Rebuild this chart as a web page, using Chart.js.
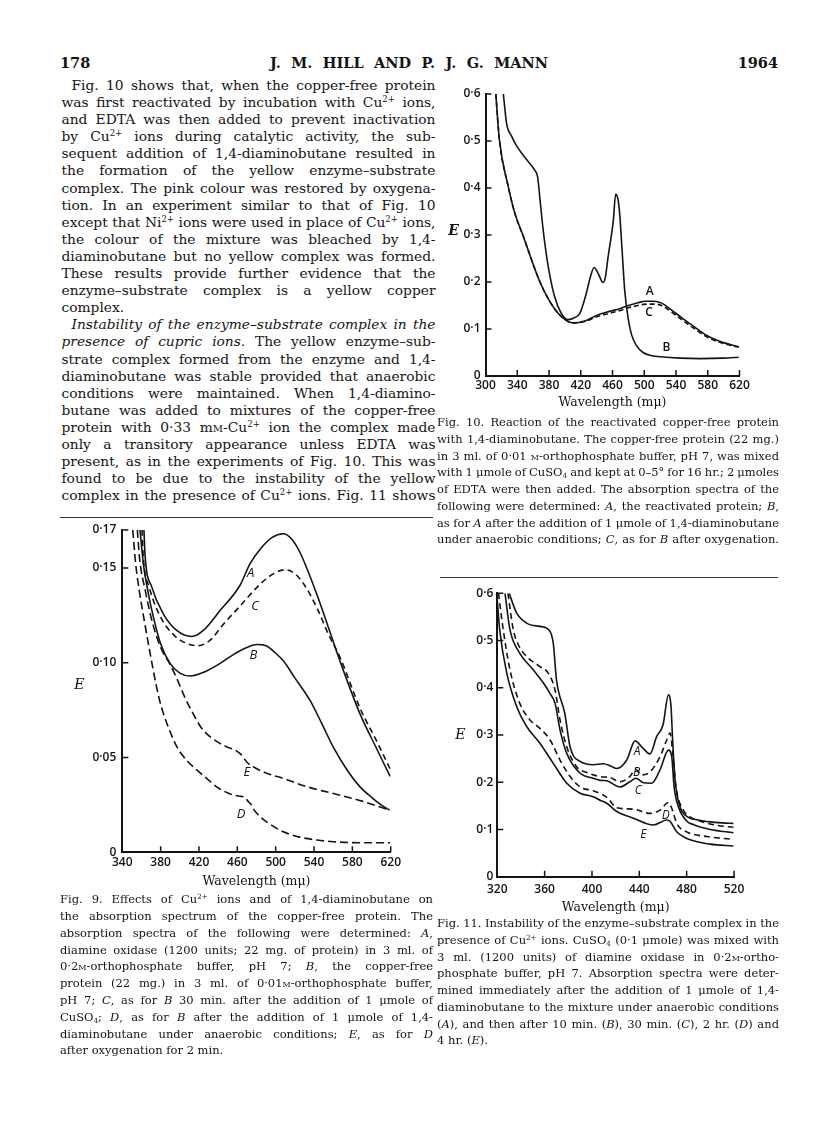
<!DOCTYPE html>
<html>
<head>
<meta charset="utf-8">
<script src="https://cdn.jsdelivr.net/npm/chart.js@4.4.1/dist/chart.umd.min.js"></script>
<style>
html, body { margin: 0; padding: 0; background: #fff; }
body { width: 816px; height: 1138px; position: relative; overflow: hidden; color: #141414; font-family: 'DejaVu Serif', serif; }
.blk { position: absolute; }
.ln { white-space: nowrap; }
.body { font-size: 13.8px; line-height: 17.1px; }
.cap { font-size: 11.5px; line-height: 16.7px; }
.ind { padding-left: 10px; }
sup { font-size: 0.62em; line-height: 0; vertical-align: 0.55em; }
sub { font-size: 0.62em; line-height: 0; vertical-align: -0.25em; }
.sc { font-variant: small-caps; }
canvas { position: absolute; }
.rule { position: absolute; height: 1px; background: #333; }
.hdr { position: absolute; top: 54px; font-weight: bold; font-size: 14.5px; line-height: 18px; white-space: nowrap; }
</style>
</head>
<body>

<div class="hdr" style="left:60px">178</div>
<div class="hdr ln j" style="left:270px;width:278px"><span>J. M. HILL AND P. J. G. MANN</span></div>
<div class="hdr" style="left:718px;width:60px;text-align:right">1964</div>

<div class="blk body" style="left:61.5px;top:77px;width:374px">
<div class="ln j ind"><span>Fig. 10 shows that, when the copper-free protein</span></div>
<div class="ln j"><span>was first reactivated by incubation with Cu<sup>2+</sup> ions,</span></div>
<div class="ln j"><span>and EDTA was then added to prevent inactivation</span></div>
<div class="ln j"><span>by Cu<sup>2+</sup> ions during catalytic activity, the sub-</span></div>
<div class="ln j"><span>sequent addition of 1,4-diaminobutane resulted in</span></div>
<div class="ln j"><span>the formation of the yellow enzyme–substrate</span></div>
<div class="ln j"><span>complex. The pink colour was restored by oxygena-</span></div>
<div class="ln j"><span>tion. In an experiment similar to that of Fig. 10</span></div>
<div class="ln j"><span>except that Ni<sup>2+</sup> ions were used in place of Cu<sup>2+</sup> ions,</span></div>
<div class="ln j"><span>the colour of the mixture was bleached by 1,4-</span></div>
<div class="ln j"><span>diaminobutane but no yellow complex was formed.</span></div>
<div class="ln j"><span>These results provide further evidence that the</span></div>
<div class="ln j"><span>enzyme–substrate complex is a yellow copper</span></div>
<div class="ln"><span>complex.</span></div>
<div class="ln j ind"><span><i>Instability of the enzyme–substrate complex in the</i></span></div>
<div class="ln j"><span><i>presence of cupric ions.</i> The yellow enzyme–sub-</span></div>
<div class="ln j"><span>strate complex formed from the enzyme and 1,4-</span></div>
<div class="ln j"><span>diaminobutane was stable provided that anaerobic</span></div>
<div class="ln j"><span>conditions were maintained. When 1,4-diamino-</span></div>
<div class="ln j"><span>butane was added to mixtures of the copper-free</span></div>
<div class="ln j"><span>protein with 0·33 m<span class="sc">m</span>-Cu<sup>2+</sup> ion the complex made</span></div>
<div class="ln j"><span>only a transitory appearance unless EDTA was</span></div>
<div class="ln j"><span>present, as in the experiments of Fig. 10. This was</span></div>
<div class="ln j"><span>found to be due to the instability of the yellow</span></div>
<div class="ln j"><span>complex in the presence of Cu<sup>2+</sup> ions. Fig. 11 shows</span></div>
</div>

<div class="rule" style="left:60px;top:517px;width:373px"></div>
<div class="rule" style="left:440px;top:577px;width:338px"></div>

<canvas id="fig10" width="330" height="340" style="left:440px;top:80px"></canvas>
<canvas id="fig9" width="360" height="380" style="left:60px;top:515px"></canvas>
<canvas id="fig11" width="330" height="345" style="left:440px;top:580px"></canvas>

<div class="blk cap" style="left:437px;top:414.3px;width:342px">
<div class="ln j"><span>Fig. 10. Reaction of the reactivated copper-free protein</span></div>
<div class="ln j"><span>with 1,4-diaminobutane. The copper-free protein (22 mg.)</span></div>
<div class="ln j"><span>in 3 ml. of 0·01 <span class="sc">m</span>-orthophosphate buffer, pH 7, was mixed</span></div>
<div class="ln j"><span>with 1 μmole of CuSO<sub>4</sub> and kept at 0–5° for 16 hr.; 2 μmoles</span></div>
<div class="ln j"><span>of EDTA were then added. The absorption spectra of the</span></div>
<div class="ln j"><span>following were determined: <i>A</i>, the reactivated protein; <i>B</i>,</span></div>
<div class="ln j"><span>as for <i>A</i> after the addition of 1 μmole of 1,4-diaminobutane</span></div>
<div class="ln j"><span>under anaerobic conditions; <i>C</i>, as for <i>B</i> after oxygenation.</span></div>
</div>

<div class="blk cap" style="left:60px;top:891.3px;width:373px;line-height:16.8px">
<div class="ln j"><span>Fig. 9. Effects of Cu<sup>2+</sup> ions and of 1,4-diaminobutane on</span></div>
<div class="ln j"><span>the absorption spectrum of the copper-free protein. The</span></div>
<div class="ln j"><span>absorption spectra of the following were determined: <i>A</i>,</span></div>
<div class="ln j"><span>diamine oxidase (1200 units; 22 mg. of protein) in 3 ml. of</span></div>
<div class="ln j"><span>0·2<span class="sc">m</span>-orthophosphate buffer, pH 7; <i>B</i>, the copper-free</span></div>
<div class="ln j"><span>protein (22 mg.) in 3 ml. of 0·01<span class="sc">m</span>-orthophosphate buffer,</span></div>
<div class="ln j"><span>pH 7; <i>C</i>, as for <i>B</i> 30 min. after the addition of 1 μmole of</span></div>
<div class="ln j"><span>CuSO<sub>4</sub>; <i>D</i>, as for <i>B</i> after the addition of 1 μmole of 1,4-</span></div>
<div class="ln j"><span>diaminobutane under anaerobic conditions; <i>E</i>, as for <i>D</i></span></div>
<div class="ln"><span>after oxygenation for 2 min.</span></div>
</div>

<div class="blk cap" style="left:437px;top:915.3px;width:342px">
<div class="ln j"><span>Fig. 11. Instability of the enzyme–substrate complex in the</span></div>
<div class="ln j"><span>presence of Cu<sup>2+</sup> ions. CuSO<sub>4</sub> (0·1 μmole) was mixed with</span></div>
<div class="ln j"><span>3 ml. (1200 units) of diamine oxidase in 0·2<span class="sc">m</span>-ortho-</span></div>
<div class="ln j"><span>phosphate buffer, pH 7. Absorption spectra were deter-</span></div>
<div class="ln j"><span>mined immediately after the addition of 1 μmole of 1,4-</span></div>
<div class="ln j"><span>diaminobutane to the mixture under anaerobic conditions</span></div>
<div class="ln j"><span>(<i>A</i>), and then after 10 min. (<i>B</i>), 30 min. (<i>C</i>), 2 hr. (<i>D</i>) and</span></div>
<div class="ln"><span>4 hr. (<i>E</i>).</span></div>
</div>

<script>
// --- Fig. 10: reactivated copper-free protein + 1,4-diaminobutane
const fig10_A_nm = [313, 317.4, 328.7, 337, 346.8, 368.6, 385.3, 397.9, 410.4, 425, 440, 455, 469, 480, 492, 502, 512, 522, 540, 557, 580, 600, 619];
const fig10_A_E  = [0.60, 0.504, 0.403, 0.346, 0.301, 0.200, 0.147, 0.123, 0.113, 0.117, 0.129, 0.137, 0.143, 0.150, 0.156, 0.159, 0.159, 0.155, 0.133, 0.112, 0.085, 0.071, 0.062];
const fig10_C_nm = [313, 317.4, 328.7, 337, 346.8, 368.6, 385.3, 397.9, 410.4, 425, 440, 455, 469, 480, 492, 502, 512, 522, 540, 557, 580, 600, 619];
const fig10_C_E  = [0.60, 0.504, 0.403, 0.346, 0.301, 0.200, 0.147, 0.123, 0.113, 0.116, 0.126, 0.133, 0.139, 0.145, 0.150, 0.153, 0.153, 0.150, 0.129, 0.108, 0.082, 0.069, 0.061];
const fig10_B_nm = [322.5, 326.6, 333, 339, 352, 362, 365.6, 369, 372.7, 379, 387, 395, 404, 412, 419, 427, 432, 436.8, 442, 448, 451, 454.5, 458, 461, 464, 467, 469, 472, 475.5, 480, 484, 490, 498.5, 510, 520, 545, 570, 600, 619];
const fig10_B_E  = [0.60, 0.537, 0.51, 0.49, 0.46, 0.438, 0.424, 0.37, 0.31, 0.233, 0.169, 0.135, 0.12, 0.124, 0.134, 0.176, 0.21, 0.231, 0.218, 0.199, 0.21, 0.254, 0.293, 0.33, 0.387, 0.375, 0.346, 0.27, 0.18, 0.12, 0.088, 0.065, 0.05, 0.043, 0.041, 0.038, 0.037, 0.038, 0.040];
const fig10_yTicks = [0, 0.1, 0.2, 0.3, 0.4, 0.5, 0.6];
const fig10_letters = [['A', 507, 0.179], ['C', 506, 0.135], ['B', 528, 0.060]];

// --- Fig. 9: Cu2+ and 1,4-diaminobutane on the copper-free protein
const fig9_A_nm = [362.6, 363.7, 370.7, 382.8, 396.8, 412.4, 424.6, 442, 463, 473, 484, 496, 508, 517, 525.5, 543, 567, 588, 605, 619.4];
const fig9_A_E  = [0.170, 0.157, 0.140, 0.1258, 0.117, 0.1138, 0.117, 0.1275, 0.141, 0.152, 0.160, 0.166, 0.168, 0.165, 0.158, 0.136, 0.101, 0.073, 0.055, 0.040];
const fig9_C_nm = [360.6, 362, 368, 380, 395, 408, 419, 432, 445, 463, 484, 498, 510, 520, 530, 543, 555, 567, 588, 605, 619.4];
const fig9_C_E  = [0.170, 0.155, 0.140, 0.124, 0.114, 0.110, 0.109, 0.112, 0.120, 0.130, 0.1415, 0.147, 0.149, 0.147, 0.141, 0.129, 0.115, 0.103, 0.076, 0.059, 0.044];
const fig9_B_nm = [358.5, 362, 367, 372, 380, 390, 400, 410.7, 425, 440, 455, 470, 480, 490, 500, 508, 520, 536, 548, 560, 575, 588, 600, 610, 618.7];
const fig9_B_E  = [0.170, 0.152, 0.137, 0.125, 0.110, 0.0995, 0.0945, 0.093, 0.095, 0.099, 0.104, 0.108, 0.1096, 0.109, 0.105, 0.101, 0.092, 0.080, 0.068, 0.0556, 0.043, 0.0345, 0.029, 0.025, 0.0223];
const fig9_E_nm = [355.7, 358, 364, 371, 380, 390, 397, 405, 414, 422, 431.5, 440, 449, 458, 464, 470, 477, 490, 508, 530, 560, 590, 618.7];
const fig9_E_E  = [0.170, 0.155, 0.138, 0.122, 0.108, 0.099, 0.0915, 0.082, 0.073, 0.066, 0.061, 0.058, 0.0556, 0.0538, 0.0515, 0.0475, 0.045, 0.0418, 0.039, 0.035, 0.031, 0.027, 0.0223];
const fig9_D_nm = [350.9, 354, 358, 363, 369, 375, 380, 388, 397, 408, 418, 428, 438.5, 447, 456, 464, 468, 471, 474, 478, 484, 495, 508, 525, 543, 560, 590, 619.4];
const fig9_D_E  = [0.170, 0.152, 0.137, 0.122, 0.105, 0.089, 0.078, 0.066, 0.0556, 0.048, 0.0433, 0.039, 0.0345, 0.032, 0.0302, 0.0295, 0.029, 0.027, 0.0255, 0.022, 0.0187, 0.0145, 0.0108, 0.008, 0.0065, 0.0056, 0.005, 0.005];
const fig9_yTicks = [0, 0.05, 0.10, 0.15, 0.17];
const fig9_letters = [['A', 474, 0.147], ['C', 478.5, 0.130], ['B', 476.8, 0.104], ['E', 470, 0.042], ['D', 464, 0.020]];

// --- Fig. 11: instability of the complex with Cu2+ (A 0 min ... E 4 hr)
const fig11_A_nm = [330, 336.4, 344.8, 356, 363, 367.3, 370, 377, 381.5, 390, 401, 409.6, 416, 421, 429.4, 436.4, 442, 449, 454.7, 460, 464.6, 466.8, 468, 470.2, 474.4, 480, 490, 500, 510, 519.5];
const fig11_A_E  = [0.60, 0.558, 0.537, 0.530, 0.524, 0.494, 0.417, 0.346, 0.275, 0.244, 0.237, 0.239, 0.234, 0.229, 0.247, 0.2875, 0.275, 0.260, 0.297, 0.321, 0.385, 0.360, 0.297, 0.205, 0.148, 0.128, 0.120, 0.116, 0.114, 0.113];
const fig11_B_nm = [329, 333.5, 338, 344.8, 356, 363, 368.8, 373, 378.7, 387, 396, 406.8, 415, 423.7, 432, 437, 442, 449, 457.5, 463.2, 466, 468.3, 471, 477.2, 484, 491, 505, 519.5];
const fig11_B_E  = [0.60, 0.523, 0.490, 0.466, 0.445, 0.431, 0.395, 0.332, 0.275, 0.233, 0.220, 0.212, 0.210, 0.201, 0.212, 0.2275, 0.2155, 0.222, 0.254, 0.290, 0.304, 0.261, 0.190, 0.141, 0.125, 0.118, 0.109, 0.1047];
const fig11_C_nm = [326.5, 330.7, 339, 350.4, 359, 364.5, 368.8, 373, 378.7, 390, 401, 406.8, 412.5, 423.7, 432, 437, 443.4, 450.5, 457.5, 464.6, 467.4, 469.4, 473, 480, 486, 500, 519.5];
const fig11_C_E  = [0.60, 0.523, 0.473, 0.438, 0.410, 0.388, 0.367, 0.311, 0.261, 0.219, 0.2085, 0.204, 0.203, 0.190, 0.201, 0.2085, 0.199, 0.198, 0.226, 0.268, 0.254, 0.190, 0.148, 0.118, 0.110, 0.100, 0.093];
const fig11_D_nm = [321, 325, 330.7, 339, 347.6, 356, 364.5, 373, 381.5, 390, 401, 406.8, 412.5, 421, 435, 449, 457.5, 464.6, 467.4, 471.6, 480, 497, 519.5];
const fig11_D_E  = [0.60, 0.523, 0.438, 0.367, 0.332, 0.314, 0.290, 0.247, 0.212, 0.190, 0.182, 0.176, 0.168, 0.146, 0.143, 0.134, 0.141, 0.157, 0.145, 0.113, 0.095, 0.085, 0.079];
const fig11_E_nm = [319.5, 322, 328, 336.4, 344.8, 356, 367.3, 378.7, 390, 401, 406.8, 412.5, 421, 435, 451.9, 463.2, 466, 471.6, 483, 499.8, 519.5];
const fig11_E_E  = [0.60, 0.523, 0.431, 0.360, 0.318, 0.2826, 0.240, 0.198, 0.1766, 0.1695, 0.162, 0.1555, 0.138, 0.124, 0.1095, 0.120, 0.117, 0.095, 0.078, 0.069, 0.065];
const fig11_yTicks = [0, 0.1, 0.2, 0.3, 0.4, 0.5, 0.6];
const fig11_letters = [['A', 438.2, 0.265], ['B', 437.8, 0.220], ['C', 439.2, 0.182], ['D', 462.3, 0.129], ['E', 443.4, 0.090]];

const ink = '#141414';
const tickFont = { family: 'Open Sans', size: 12, weight: '600' };

// justify each printed line to its column
document.querySelectorAll('.ln').forEach(el => {
    const sp = el.querySelector('span');
    const pad = parseFloat(getComputedStyle(el).paddingLeft) || 0;
    const target = el.clientWidth - pad;
    const w = sp.getBoundingClientRect().width;
    const n = (sp.textContent.match(/ /g) || []).length;
    if (!n) return;
    if (el.classList.contains('j') || w > target) {
        el.style.wordSpacing = ((target - w) / n) + 'px';
    }
});

const pts = (xs, ys) => xs.map((x, i) => ({ x: x, y: ys[i] }));

function curve(xs, ys, dash) {
    return {
        data: pts(xs, ys),
        borderColor: ink,
        borderWidth: 1.6,
        borderDash: dash || [],
        pointRadius: 0,
        fill: false,
        cubicInterpolationMode: 'monotone'
    };
}

// inward tick marks, curve letters and the E label
const marks = {
    id: 'marks',
    afterDraw(chart, args, opts) {
        const { ctx, chartArea } = chart;
        const x = chart.scales.x, y = chart.scales.y;
        ctx.save();
        ctx.strokeStyle = ink;
        ctx.lineWidth = 1.5;
        ctx.beginPath();
        x.ticks.forEach(t => {
            if (t.value === x.min) return;
            const px = x.getPixelForValue(t.value);
            ctx.moveTo(px, chartArea.bottom);
            ctx.lineTo(px, chartArea.bottom - 6);
        });
        y.ticks.forEach(t => {
            if (t.value === y.min) return;
            const py = y.getPixelForValue(t.value);
            ctx.moveTo(chartArea.left, py);
            ctx.lineTo(chartArea.left + 6, py);
        });
        ctx.stroke();

        ctx.fillStyle = ink;
        ctx.textAlign = 'center';
        ctx.textBaseline = 'middle';
        ctx.font = opts.letterFont;
        opts.letters.forEach(l => {
            ctx.fillText(l[0], x.getPixelForValue(l[1]), y.getPixelForValue(l[2]));
        });
        ctx.font = opts.eFont;
        ctx.fillText('E', chartArea.left - opts.eAt[0], y.getPixelForValue(opts.eAt[1]));
        ctx.restore();
    }
};

function figure(id, o) {
    return new Chart(document.getElementById(id), {
        type: 'line',
        data: { datasets: o.datasets },
        options: {
            responsive: false,
            animation: false,
            devicePixelRatio: 1,
            layout: { padding: o.pad },
            plugins: {
                legend: { display: false },
                tooltip: { enabled: false },
                marks: { letters: o.letters, letterFont: o.letterFont, eAt: o.eAt, eFont: o.eFont }
            },
            scales: {
                x: {
                    type: 'linear',
                    min: o.xMin,
                    max: o.xMax,
                    ticks: { stepSize: 40, autoSkip: false, maxRotation: 0, padding: o.xPad, font: tickFont, color: ink },
                    grid: { display: false, drawTicks: false },
                    border: { display: true, width: 2, color: ink },
                    title: { display: true, text: 'Wavelength (mμ)', font: { family: 'DejaVu Serif', size: 12.5 }, color: ink, padding: 0 },
                    afterFit: s => { s.height = o.xH; }
                },
                y: {
                    type: 'linear',
                    min: 0,
                    max: o.yTicks[o.yTicks.length - 1],
                    afterBuildTicks: s => { s.ticks = o.yTicks.map(v => ({ value: v })); },
                    ticks: {
                        padding: o.yPad, font: tickFont, color: ink,
                        callback: v => v === 0 ? '0' : v.toFixed(o.dec).replace('.', '·')
                    },
                    grid: { display: false, drawTicks: false },
                    border: { display: true, width: 2, color: ink },
                    afterFit: s => { s.width = o.yW; }
                }
            }
        },
        plugins: [marks]
    });
}

figure('fig10', {
    datasets: [
        curve(fig10_A_nm, fig10_A_E),
        curve(fig10_C_nm, fig10_C_E, [5, 3]),
        curve(fig10_B_nm, fig10_B_E)
    ],
    xMin: 300, xMax: 620, yTicks: fig10_yTicks, dec: 1,
    pad: { left: 0, right: 30.5, top: 14, bottom: 9.8 },
    yW: 45.5, xH: 34.2, xPad: 2.8, yPad: 5,
    letters: fig10_letters, letterFont: '600 12px "Open Sans"',
    eAt: [32, 0.307], eFont: 'bold italic 14px "DejaVu Serif"'
});

figure('fig9', {
    datasets: [
        curve(fig9_A_nm, fig9_A_E),
        curve(fig9_C_nm, fig9_C_E, [6, 4]),
        curve(fig9_B_nm, fig9_B_E),
        curve(fig9_E_nm, fig9_E_E, [8, 4]),
        curve(fig9_D_nm, fig9_D_E, [8, 4])
    ],
    xMin: 340, xMax: 620, yTicks: fig9_yTicks, dec: 2,
    pad: { left: 0, right: 29.3, top: 15, bottom: 6.1 },
    yW: 62.3, xH: 36.6, xPad: 3.5, yPad: 6,
    letters: fig9_letters, letterFont: 'italic 13px "Open Sans"',
    eAt: [43, 0.088], eFont: 'italic 14px "DejaVu Serif"'
});

figure('fig11', {
    datasets: [
        curve(fig11_A_nm, fig11_A_E),
        curve(fig11_B_nm, fig11_B_E, [6, 4]),
        curve(fig11_C_nm, fig11_C_E),
        curve(fig11_D_nm, fig11_D_E, [6, 4]),
        curve(fig11_E_nm, fig11_E_E)
    ],
    xMin: 320, xMax: 520, yTicks: fig11_yTicks, dec: 1,
    pad: { left: 0, right: 36, top: 13.3, bottom: 9.8 },
    yW: 57.3, xH: 38.5, xPad: 6.1, yPad: 4,
    letters: fig11_letters, letterFont: 'italic 12px "Open Sans"',
    eAt: [37, 0.3], eFont: 'italic 14px "DejaVu Serif"'
});
</script>
</body>
</html>
